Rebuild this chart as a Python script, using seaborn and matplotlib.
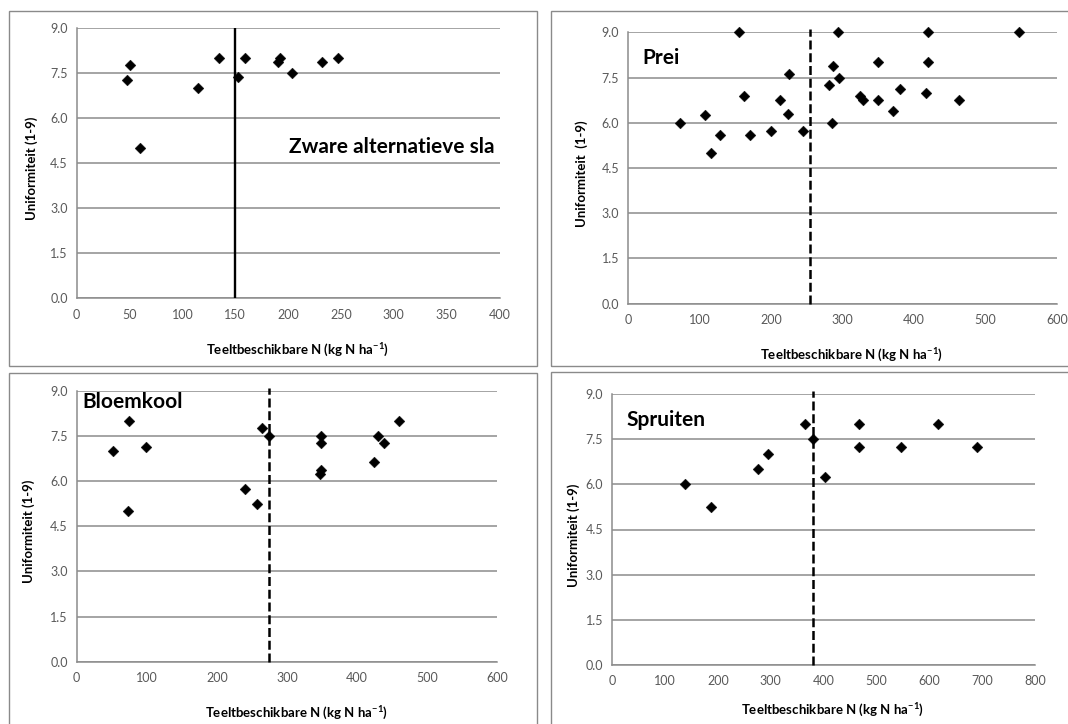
import matplotlib
matplotlib.use("Agg")
import matplotlib.pyplot as plt
from matplotlib.patches import Rectangle
import seaborn as sns

# Crop data: available N (kg N/ha) vs. uniformity score (1-9)
sla_n = [48, 50, 60, 115, 135, 153, 159, 190, 192, 204, 232, 247]
sla_u = [7.25, 7.75, 5.0, 7.0, 8.0, 7.35, 8.0, 7.85, 8.0, 7.5, 7.85, 8.0]
sla_ref = 150

prei_n = [155, 293, 420, 547, 73, 108, 116, 128, 162, 170, 200, 212, 225, 223,
          244, 281, 287, 285, 295, 324, 329, 350, 350, 370, 380, 416, 420, 463]
prei_u = [9.0, 9.0, 9.0, 9.0, 6.0, 6.25, 5.0, 5.6, 6.88, 5.6, 5.73, 6.75, 7.62, 6.3,
          5.73, 7.25, 7.88, 6.0, 7.5, 6.88, 6.75, 8.0, 6.75, 6.38, 7.12, 7.0, 8.0, 6.75]
prei_ref = 255

bloem_n = [52, 74, 73, 99, 240, 257, 265, 274, 349, 348, 348, 347, 424, 430, 438, 460]
bloem_u = [7.0, 8.0, 5.0, 7.12, 5.75, 5.25, 7.75, 7.5, 7.5, 7.25, 6.38, 6.25,
           6.62, 7.5, 7.25, 8.0]
bloem_ref = 275

spr_n = [137, 187, 276, 294, 365, 379, 402, 467, 467, 546, 616, 690]
spr_u = [6.0, 5.25, 6.5, 7.0, 8.0, 7.5, 6.25, 8.0, 7.25, 7.25, 8.0, 7.25]
spr_ref = 380

crop_names = ["Zware alternatieve sla", "Prei", "Bloemkool", "Spruiten"]
x_limits = [400, 600, 600, 800]
x_steps = [50, 100, 100, 100]
y_ticks = [0.0, 1.5, 3.0, 4.5, 6.0, 7.5, 9.0]
x_label = r"Teeltbeschikbare N (kg N ha$^{\mathbf{-1}}$)"
y_labels = ["Uniformiteit (1-9)", "Uniformiteit  (1-9)",
            "Uniformiteit (1-9)", "Uniformiteit (1-9)"]

sns.set_theme(style="white")
plt.rcParams["font.family"] = ["Lato", "DejaVu Sans"]
plt.rcParams["mathtext.fontset"] = "custom"
plt.rcParams["mathtext.bf"] = "Lato:bold"
plt.rcParams["mathtext.rm"] = "Lato"

W, H = 1068, 724
fig = plt.figure(figsize=(W / 100, H / 100), dpi=100)
fig.patch.set_facecolor("white")

GRID = "#8c8c8c"
TICKC = "#595959"

# frames around each panel (pixel boxes)
frames = [(8.5, 11, 537, 366), (551, 11.5, 1075, 366),
          (8.5, 373, 537, 735), (551, 372.5, 1075, 735)]
for (x0, y0, x1, y1) in frames:
    fig.add_artist(Rectangle((x0 / W, 1 - y1 / H), (x1 - x0) / W, (y1 - y0) / H,
                             transform=fig.transFigure, fill=False,
                             edgecolor="#8a8a8a", lw=1.0, clip_on=False))

# plot areas in pixels: left, right, top, bottom
areas = [(76.7, 499.5, 27.7, 298.3), (628.3, 1057, 32.3, 303.7),
         (76.7, 497.3, 390.7, 661.7), (612.3, 1035, 394, 665)]

series = [(sla_n, sla_u, sla_ref), (prei_n, prei_u, prei_ref),
          (bloem_n, bloem_u, bloem_ref), (spr_n, spr_u, spr_ref)]

# crop name anchor in axes fraction
name_pos = [((288.8 - 76.7) / 422.8, 0.56), (0.033, 0.905),
            (0.014, 0.96), (0.034, 0.905)]
# distances (px) from the axis to the centre of each axis label
ylabel_off = [44.7, 46.6, 47.7, 39.0]
xlabel_off = [52, 51.5, 52, 45]

for i, ((x0, x1, yt, yb), (xs, ys, ref)) in enumerate(zip(areas, series)):
    ax = fig.add_axes([x0 / W, 1 - yb / H, (x1 - x0) / W, (yb - yt) / H])
    ax.set_facecolor("white")
    sns.scatterplot(x=xs, y=ys, ax=ax, marker="D", color="black", s=30,
                    edgecolor="black", linewidth=0.3, zorder=4, clip_on=False)
    if i == 0:
        ax.plot([ref, ref], [0, 9.0], color="black", lw=1.7, zorder=3)
    else:
        ax.plot([ref, ref], [0, 9.1], color="black", lw=1.8,
                dashes=(3.6, 1.5), zorder=3, clip_on=False)
    ax.set_xlim(0, x_limits[i])
    ax.set_ylim(0, 9.0)
    ax.set_xticks(list(range(0, x_limits[i] + 1, x_steps[i])))
    ax.set_yticks(y_ticks)
    ax.set_yticklabels([f"{v:.1f}" for v in y_ticks])
    ax.yaxis.grid(True, color=GRID, lw=1.1)
    ax.xaxis.grid(False)
    ax.set_axisbelow(True)
    for side in ("top", "right"):
        ax.spines[side].set_visible(False)
    for side in ("left", "bottom"):
        ax.spines[side].set_color(GRID)
        ax.spines[side].set_linewidth(1.1)
    ax.tick_params(axis="both", direction="out", length=3.5, width=1.0,
                   color=GRID, labelcolor=TICKC, labelsize=9, pad=4)
    ax.tick_params(axis="y", pad=3)
    ax.set_xlabel(x_label, fontsize=9.5, fontweight="bold", color="black",
                  va="center")
    ax.set_ylabel(y_labels[i], fontsize=9.5, fontweight="bold", color="black",
                  va="center")
    ax.xaxis.set_label_coords((0.5 * (x1 - x0) + 9) / (x1 - x0),
                              -xlabel_off[i] / (yb - yt))
    ax.yaxis.set_label_coords(-ylabel_off[i] / (x1 - x0), 0.48)
    nx, ny = name_pos[i]
    ax.text(nx, ny, crop_names[i], transform=ax.transAxes, fontsize=15,
            fontweight="bold", color="black", ha="left", va="center", zorder=5)

fig.savefig("out.png", dpi=100, facecolor="white")
